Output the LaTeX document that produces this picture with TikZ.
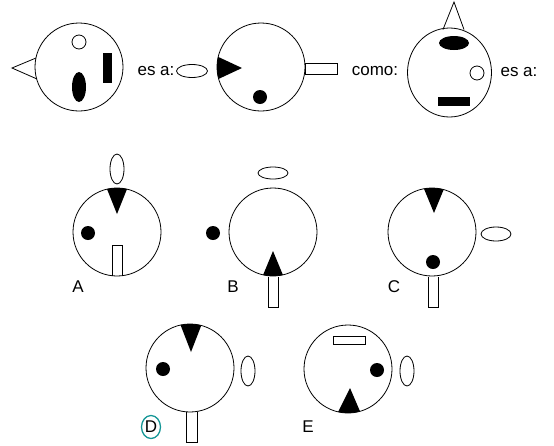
\documentclass[tikz,border=0pt]{standalone}
\usepackage{fontspec}
\setmainfont{Liberation Sans}
\definecolor{tealmark}{RGB}{20,150,150}
\begin{document}
\begin{tikzpicture}[x=1pt,y=-1pt,
  ln/.style={line width=0.8pt},
  lbl/.style={font=\fontsize{17}{20}\selectfont, inner sep=0pt}]
\useasboundingbox (0,0) rectangle (554,445);
% ---------- top row ----------
\coordinate (c1) at (79,67);
\draw[ln] (36,58) -- (12,68) -- (37,79);
\draw[ln] (c1) circle[radius=44];
\draw[ln] (79,42) circle[radius=7];
\fill (79,87) ellipse[x radius=7, y radius=15];
\fill (103,53) rectangle (112,83);
\node[lbl] (t1) at (156,71) {es a:};
\draw[ln] (192,71) ellipse[x radius=15.5, y radius=6.5];

\coordinate (c2) at (261,67);
\begin{scope}\clip (c2) circle[radius=44];
\fill (212,54) -- (242,68) -- (212,82) -- cycle;\end{scope}
\draw[ln] (c2) circle[radius=44];
\fill (260,97) circle[radius=7];
\draw[ln] (305,63) rectangle (337,74);
\node[lbl] (t2) at (375,71) {como:};

\coordinate (c3) at (449.5,72.5);
\draw[ln] (443,29.5) -- (454,2) -- (464,29.5);
\draw[ln] (c3) ellipse[x radius=42, y radius=44.5];
\fill (454,43) ellipse[x radius=15, y radius=7];
\draw[ln] (477,73) circle[radius=7];
\fill (438,97) rectangle (470,106);
\node[lbl] (t3) at (519,72) {es a:};

% ---------- option A ----------
\coordinate (cA) at (117,232);
\draw[ln] (117,169) ellipse[x radius=7, y radius=15];
\begin{scope}\clip (cA) circle[radius=44];
\fill (105,184) -- (129,184) -- (117,214) -- cycle;\end{scope}
\draw[ln] (cA) circle[radius=44];
\fill (88,233) circle[radius=7];
\draw[ln] (112,276) -- (112,245) -- (122,245) -- (122,276);
\node[lbl] (lA) at (78,287) {A};

% ---------- option B ----------
\coordinate (cB) at (273,232);
\draw[ln] (273,173) ellipse[x radius=15, y radius=6];
\fill (213,233) circle[radius=7];
\begin{scope}\clip (cB) circle[radius=44];
\fill (261,280) -- (285,280) -- (273,251) -- cycle;\end{scope}
\draw[ln] (cB) circle[radius=44];
\draw[ln] (268,276.5) -- (268,307) -- (278,307) -- (278,276.5);
\node[lbl] (lB) at (233,287) {B};

% ---------- option C ----------
\coordinate (cC) at (432,232);
\begin{scope}\clip (cC) circle[radius=44];
\fill (422,184) -- (446,184) -- (434,213) -- cycle;\end{scope}
\draw[ln] (cC) circle[radius=44];
\fill (433,262) circle[radius=7];
\draw[ln] (496,234) ellipse[x radius=15, y radius=7];
\draw[ln] (428,276.5) -- (428,307) -- (438,307) -- (438,276.5);
\node[lbl] (lC) at (394,287) {C};

% ---------- option D ----------
\coordinate (cD) at (190,368);
\begin{scope}\clip (cD) circle[radius=44];
\fill (179,321) -- (203,321) -- (191,352) -- cycle;\end{scope}
\draw[ln] (cD) circle[radius=44];
\fill (163,369) circle[radius=7];
\draw[ln] (248,371) ellipse[x radius=7, y radius=15];
\draw[ln] (186,411.7) -- (186,442) -- (197,442) -- (197,411.7);
\node[lbl] (lD) at (151,427) {D};
\draw[tealmark, line width=1.3pt] (lD) ellipse[x radius=9.5, y radius=11.5];

% ---------- option E ----------
\coordinate (cE) at (348,369);
\draw[ln] (333,336) rectangle (365,344);
\fill (377,370) circle[radius=7];
\begin{scope}\clip (cE) circle[radius=44];
\fill (336,416) -- (362,416) -- (350,388) -- cycle;\end{scope}
\draw[ln] (cE) circle[radius=44];
\draw[ln] (407,371) ellipse[x radius=7, y radius=15];
\node[lbl] (lE) at (308,427) {E};
\end{tikzpicture}
\end{document}
